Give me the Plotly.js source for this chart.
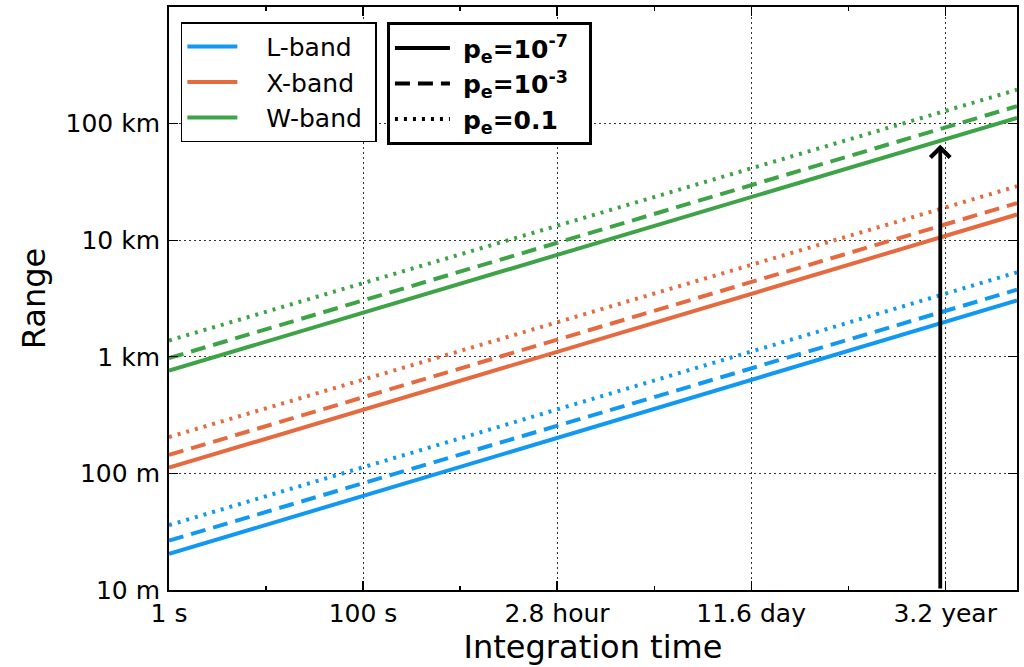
<!DOCTYPE html>
<html>
<head>
<meta charset="utf-8">
<script src="https://cdn.plot.ly/plotly-3.0.1.min.js"></script>
<style>html,body{margin:0;padding:0;background:#fff;}#chart{width:1024px;height:667px;}</style>
</head>
<body>
<div id="chart"></div>
<script>
// Integration time (s) at the two ends of every line
var timeEnds = [1, 5.5e8];
// Range (m) at the two ends, per band and error probability
var lSolid = [20.4, 3040];
var lDash  = [26.5, 3760];
var lDot   = [36, 5300];
var xSolid = [112, 16600];
var xDash  = [144, 20800];
var xDot   = [205, 29000];
var wSolid = [762, 112000];
var wDash  = [975, 141000];
var wDot   = [1380, 195000];

var bandNames = ['\u00a0\u00a0\u00a0L-band\u00a0', '\u00a0\u00a0\u00a0X-band\u00a0', '\u00a0\u00a0\u00a0W-band\u00a0'];
var peNames = ['\u00a0<b>p<sub>e</sub>=10<sup>-7</sup></b>\u00a0\u00a0', '\u00a0<b>p<sub>e</sub>=10<sup>-3</sup></b>\u00a0\u00a0', '\u00a0<b>p<sub>e</sub>=0.1</b>\u00a0\u00a0'];

var xTickVals = [1, 100, 1e4, 1e6, 1e8];
var xTickText = ['1 s', '100 s', '2.8 hour', '11.6 day', '3.2 year'];
var xMinorVals = [10, 1e3, 1e5, 1e7];
var yTickVals = [10, 100, 1000, 1e4, 1e5];
var yTickText = ['10 m', '100 m', '1 km', '10 km', '100 km'];

// Arrow: time (s), from range (m) to range (m)
var arrowTime = 8.9e7;
var arrowFrom = 10;
var arrowTo = 66000;

var colors = ['#1199F2', '#E66A40', '#3DA346'];
var dashes = ['solid', '15px,8px', '3px,6px'];
var series = [[lSolid, lDash, lDot], [xSolid, xDash, xDot], [wSolid, wDash, wDot]];

var traces = [];
series.forEach(function (band, bi) {
  band.forEach(function (vals, pi) {
    traces.push({
      x: timeEnds, y: vals, mode: 'lines', type: 'scatter',
      line: {color: colors[bi], width: 4, dash: dashes[pi]},
      name: bandNames[bi], legend: 'legend', legendgroup: 'b' + bi,
      showlegend: pi === 0, hoverinfo: 'skip'
    });
  });
});
peNames.forEach(function (nm, pi) {
  traces.push({
    x: [null], y: [null], mode: 'lines', type: 'scatter',
    line: {color: '#000', width: 4, dash: dashes[pi]},
    name: nm, legend: 'legend2', legendgroup: 'p' + pi, showlegend: true
  });
});

var DJ = 'DejaVu Sans';
var axisCommon = {
  type: 'log', showline: true, linecolor: '#000', linewidth: 2, mirror: 'ticks',
  ticks: 'inside', ticklen: 9, tickwidth: 1.2, tickcolor: '#000',
  showgrid: true, gridcolor: '#333', gridwidth: 1, griddash: '2px,3px',
  zeroline: false, tickmode: 'array',
  tickfont: {family: DJ, size: 25, color: '#000'}
};

var layout = {
  width: 1024, height: 667,
  margin: {l: 169, r: 7, t: 7, b: 77},
  paper_bgcolor: '#fff', plot_bgcolor: '#fff',
  font: {family: DJ, color: '#000', size: 25},
  xaxis: Object.assign({}, axisCommon, {
    range: [Math.log10(timeEnds[0]), Math.log10(timeEnds[1])],
    tickvals: xTickVals, ticktext: xTickText, ticklabelstandoff: 0,
    minor: {tickmode: 'array', tickvals: xMinorVals, ticks: 'inside', ticklen: 4, tickwidth: 1.2, tickcolor: '#000', showgrid: false},
    title: {text: 'Integration time', font: {family: DJ, size: 32, color: '#000'}, standoff: 6}
  }),
  yaxis: Object.assign({}, axisCommon, {
    range: [1, 6], ticklabelstandoff: 2,
    tickvals: yTickVals, ticktext: yTickText,
    title: {text: 'Range', font: {family: DJ, size: 32, color: '#000'}, standoff: 10}
  }),
  legend: {
    x: 0.014, y: 0.974, xanchor: 'left', yanchor: 'top',
    bgcolor: '#fff', bordercolor: '#000', borderwidth: 1.5,
    font: {family: DJ, size: 25, color: '#000'},
    traceorder: 'grouped', tracegroupgap: 0, itemwidth: 50
  },
  legend2: {
    x: 0.257, y: 0.974, xanchor: 'left', yanchor: 'top',
    bgcolor: '#fff', bordercolor: '#000', borderwidth: 3,
    font: {family: DJ, size: 25, color: '#000'},
    traceorder: 'grouped', tracegroupgap: 0, itemwidth: 55
  },
  annotations: [{
    x: Math.log10(arrowTime), y: Math.log10(arrowTo),
    ax: Math.log10(arrowTime), ay: Math.log10(arrowFrom),
    xref: 'x', yref: 'y', axref: 'x', ayref: 'y',
    text: '', showarrow: true, arrowhead: 4, arrowsize: 1, arrowwidth: 3.8,
    arrowcolor: '#000', standoff: 0, startstandoff: 0
  }],
  showlegend: true
};

Plotly.newPlot('chart', traces, layout, {displayModeBar: false, staticPlot: true});
</script>
</body>
</html>
